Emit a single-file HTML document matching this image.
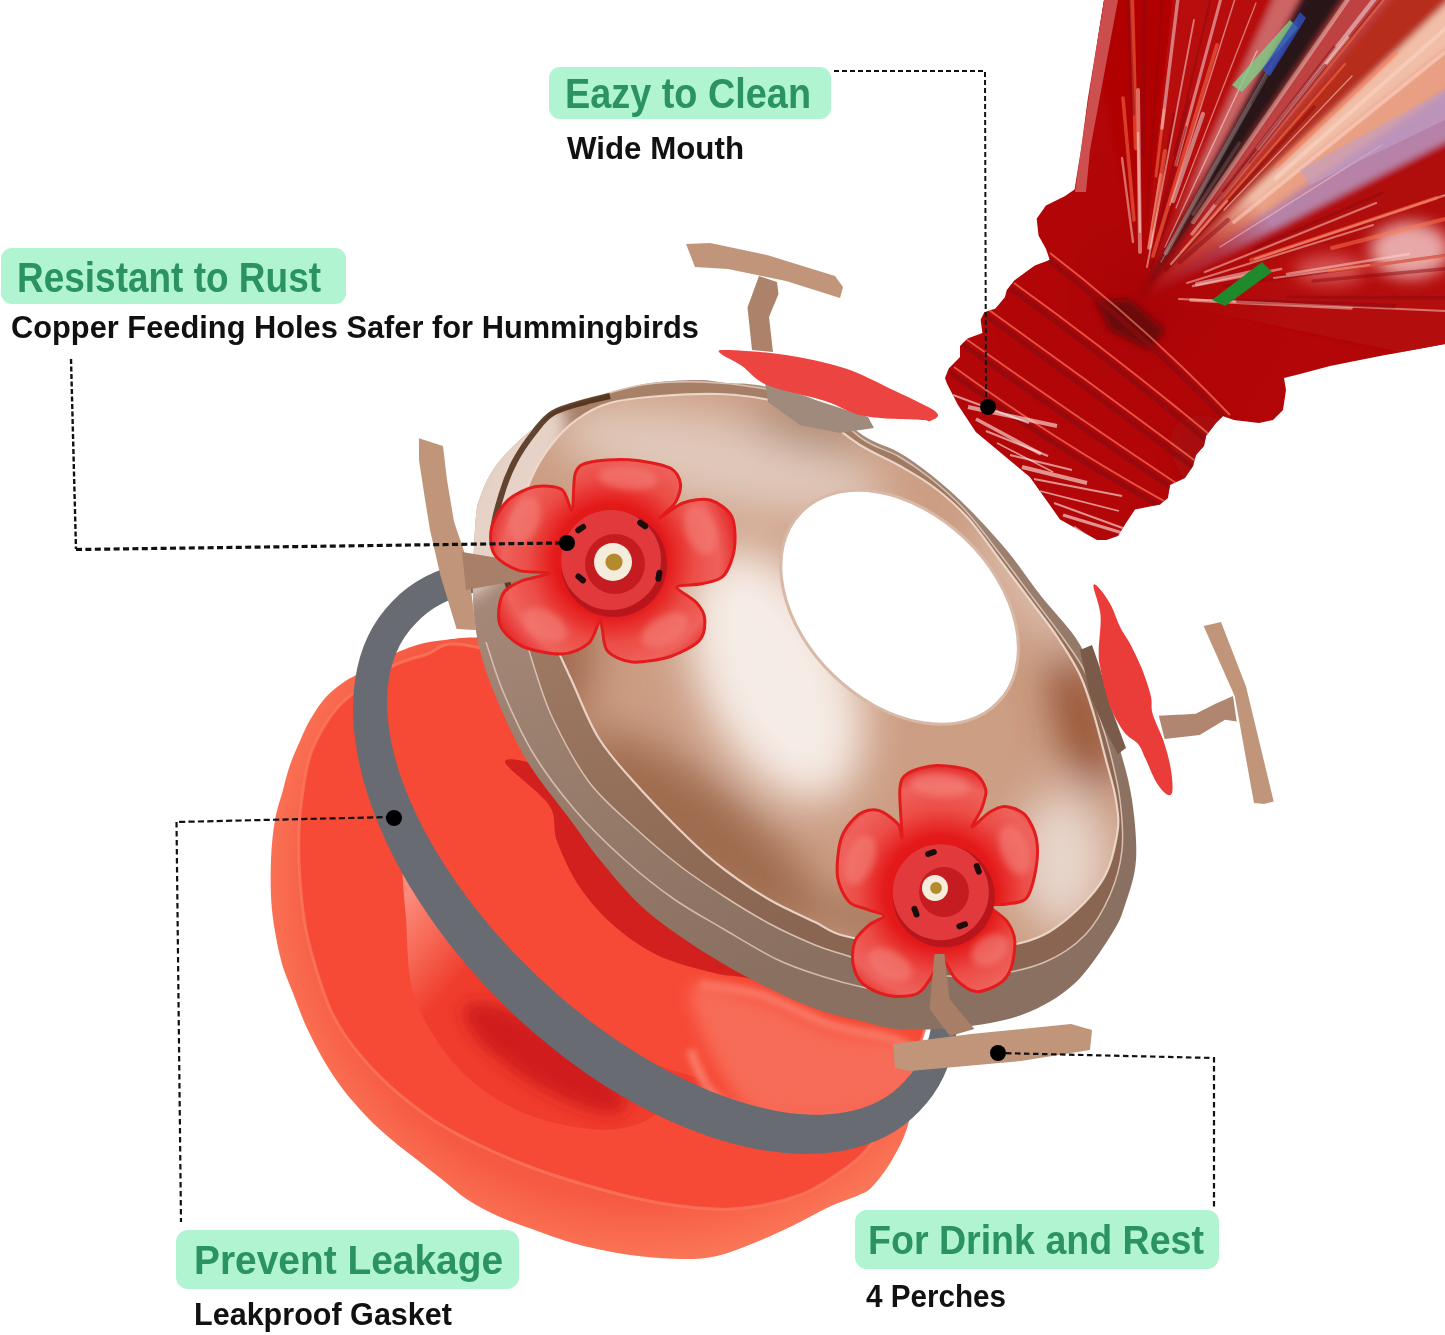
<!DOCTYPE html>
<html><head><meta charset="utf-8">
<style>
html,body{margin:0;padding:0;background:#fff;}
body{width:1445px;height:1335px;overflow:hidden;position:relative;}
svg{position:absolute;left:0;top:0;display:block;}
.h{font-family:"Liberation Sans",sans-serif;font-weight:bold;fill:#2b9262;}
.s{font-family:"Liberation Sans",sans-serif;font-weight:bold;fill:#111;}
</style></head><body>
<svg width="1445" height="1335" viewBox="0 0 1445 1335" xmlns="http://www.w3.org/2000/svg">
<defs>
<clipPath id="bottleClip"><path d="M1104 0 L1445 0 L1445 344 L1380 356 L1330 366 L1300 374 L1284 378 L1286 390 L1283 410 L1273 420 L1259 423 L1234 420 L1223 416 L1216 423 L1206 436 L1204 446 L1196 455 L1193 466 L1185 478 L1170 485 L1168 498 L1160 504.5 L1135 509.4 L1126 523 L1118 536 L1106.5 540 L1097 540 L1060 519.4 L1029.8 476.9 L975.8 432 L958 405 L946.9 383.5 L945 378 L948.7 368.5 L960 357 L960 346 L967.5 338.5 L982.4 333 L980.6 319.8 L984.3 312.3 L995.5 308.6 L1004.9 297.3 L1006.8 289.9 L1014.3 280.5 L1034.9 265.5 L1049.9 260 L1046 248.7 L1038.6 235.5 L1036.7 218.7 L1046 205.6 L1064.8 196.2 L1074.6 189.5 L1081.2 148.3 L1087.8 98.9 L1096 49.4Z"/></clipPath>
<clipPath id="domeClip"><path d="M642.7 384.3 C660.5 381.0 682.4 380.2 696.6 380.0 C710.8 379.8 717.4 382.1 728.0 383.0 C738.6 383.9 745.5 382.8 760.0 385.6 C774.5 388.4 797.7 391.6 815.0 400.0 C832.3 408.4 850.2 427.3 864.0 436.0 C877.8 444.7 887.0 445.7 898.0 452.0 C909.0 458.3 918.7 465.0 930.0 474.0 C941.3 483.0 953.1 493.2 966.0 506.0 C978.9 518.8 994.8 536.0 1007.3 551.0 C1019.8 566.0 1029.8 581.8 1041.0 596.0 C1052.2 610.2 1066.2 624.1 1074.7 636.4 C1083.2 648.7 1087.0 657.7 1092.0 670.0 C1097.0 682.3 1100.3 696.7 1105.0 710.0 C1109.7 723.3 1115.5 735.0 1120.0 750.0 C1124.5 765.0 1129.3 781.7 1132.0 800.0 C1134.7 818.3 1137.2 842.5 1136.0 860.0 C1134.8 877.5 1129.1 892.6 1125.0 905.0 C1120.9 917.4 1119.9 921.2 1111.4 934.4 C1102.9 947.6 1088.6 970.7 1074.0 984.0 C1059.4 997.3 1042.7 1006.8 1024.0 1014.0 C1005.3 1021.2 982.7 1024.5 962.0 1027.0 C941.3 1029.5 916.5 1030.1 900.0 1029.2 C883.5 1028.3 876.5 1024.9 862.7 1021.6 C848.9 1018.3 832.2 1014.7 817.0 1009.4 C801.8 1004.1 786.6 997.0 771.4 989.6 C756.2 982.2 740.9 974.2 725.7 965.3 C710.5 956.4 694.3 946.3 680.0 936.3 C665.7 926.2 653.3 917.7 640.0 905.0 C626.7 892.3 611.8 874.5 600.0 860.0 C588.2 845.5 581.2 834.5 569.0 818.0 C556.8 801.5 539.0 780.8 527.0 761.0 C515.0 741.2 504.8 717.9 497.0 699.4 C489.2 680.9 484.0 666.6 480.0 650.0 C476.0 633.4 473.8 621.4 473.0 600.0 C472.2 578.6 474.2 539.3 475.5 521.8 C476.8 504.3 477.9 503.8 481.0 494.8 C484.1 485.8 488.1 476.9 494.4 467.9 C500.7 458.9 509.3 449.6 518.7 441.0 C528.1 432.4 539.1 423.4 551.0 416.6 C562.9 409.8 574.7 405.4 590.0 400.0 C605.3 394.6 624.9 387.6 642.7 384.3Z"/></clipPath>
<clipPath id="surfClip"><path d="M609.5 403.0 C623.5 399.0 641.6 397.5 660.0 396.0 C678.4 394.5 701.7 393.3 720.0 394.0 C738.3 394.7 754.2 396.7 770.0 400.0 C785.8 403.3 800.0 406.5 815.0 414.0 C830.0 421.5 845.8 436.3 860.0 445.0 C874.2 453.7 887.5 458.8 900.0 466.0 C912.5 473.2 923.7 479.3 935.0 488.0 C946.3 496.7 957.2 506.0 968.0 518.0 C978.8 530.0 989.7 546.3 1000.0 560.0 C1010.3 573.7 1020.3 587.0 1030.0 600.0 C1039.7 613.0 1049.7 625.5 1058.0 638.0 C1066.3 650.5 1074.0 662.2 1080.0 675.0 C1086.0 687.8 1089.7 700.8 1094.0 715.0 C1098.3 729.2 1102.3 745.8 1106.0 760.0 C1109.7 774.2 1114.2 787.5 1116.0 800.0 C1117.8 812.5 1119.7 821.0 1117.0 835.0 C1114.3 849.0 1111.3 867.8 1100.0 884.0 C1088.7 900.2 1067.3 921.3 1049.0 932.0 C1030.7 942.7 1011.5 945.3 990.0 948.0 C968.5 950.7 944.2 950.0 920.0 948.0 C895.8 946.0 862.5 940.3 845.0 936.0 C827.5 931.7 827.5 928.0 815.0 922.0 C802.5 916.0 785.0 908.7 770.0 900.0 C755.0 891.3 738.7 880.3 725.0 870.0 C711.3 859.7 703.2 852.7 688.0 838.0 C672.8 823.3 649.0 798.8 634.0 782.0 C619.0 765.2 608.5 754.2 598.0 737.0 C587.5 719.8 579.3 696.8 571.0 679.0 C562.7 661.2 555.3 644.8 548.0 630.0 C540.7 615.2 532.8 602.9 527.0 590.0 C521.2 577.1 514.5 564.5 513.0 552.7 C511.5 541.0 514.9 532.0 518.0 519.5 C521.1 507.1 525.8 490.4 531.4 478.0 C537.0 465.6 543.9 454.5 551.4 444.8 C558.9 435.1 566.6 426.8 576.3 419.8 C586.0 412.8 595.5 407.0 609.5 403.0Z"/></clipPath>
<filter id="bl25" x="-50%" y="-50%" width="200%" height="200%"><feGaussianBlur stdDeviation="22"/></filter>
<filter id="bl8" x="-50%" y="-50%" width="200%" height="200%"><feGaussianBlur stdDeviation="8"/></filter>
<filter id="bl3" x="-50%" y="-50%" width="200%" height="200%"><feGaussianBlur stdDeviation="3"/></filter>
<linearGradient id="tubeG" gradientUnits="userSpaceOnUse" x1="405" y1="900" x2="475" y2="960">
<stop offset="0" stop-color="#fc8a7a"/><stop offset="0.5" stop-color="#f66654"/><stop offset="1" stop-color="#f03c2c"/>
</linearGradient>
<radialGradient id="bandG" gradientUnits="userSpaceOnUse" cx="640" cy="880" r="400">
<stop offset="0" stop-color="#f44a36"/><stop offset="0.8" stop-color="#f65a42"/><stop offset="1" stop-color="#fc7e5e"/>
</radialGradient>
<radialGradient id="focG"><stop offset="0" stop-color="#a80408" stop-opacity="1"/><stop offset="0.6" stop-color="#b00608" stop-opacity="0.6"/><stop offset="1" stop-color="#b00608" stop-opacity="0"/></radialGradient>
<linearGradient id="rimG1" gradientUnits="userSpaceOnUse" x1="540" y1="430" x2="760" y2="980">
<stop offset="0" stop-color="#b09080"/><stop offset="0.45" stop-color="#9c8070"/><stop offset="1" stop-color="#8a7060"/>
</linearGradient>
<linearGradient id="rimG2" gradientUnits="userSpaceOnUse" x1="540" y1="430" x2="740" y2="940">
<stop offset="0" stop-color="#a88068"/><stop offset="0.4" stop-color="#9c7862"/><stop offset="1" stop-color="#8a6652"/>
</linearGradient>
<radialGradient id="domeG" gradientUnits="userSpaceOnUse" cx="720" cy="640" r="420">
<stop offset="0" stop-color="#e2c5b4"/><stop offset="0.45" stop-color="#c49a80"/><stop offset="1" stop-color="#9a6f56"/>
</radialGradient>
<linearGradient id="bottleG" gradientUnits="userSpaceOnUse" x1="1000" y1="500" x2="1445" y2="0">
<stop offset="0" stop-color="#c01418"/><stop offset="0.6" stop-color="#cc1a18"/><stop offset="1" stop-color="#d8504a"/>
</linearGradient>
</defs>
<path d="M520.0 640.0 C482.2 626.2 486.0 637.5 473.5 637.5 C461.0 637.5 454.4 638.8 445.0 640.0 C435.6 641.2 427.0 642.0 417.0 645.0 C407.0 648.0 394.8 653.2 385.0 658.0 C375.2 662.8 364.8 670.0 358.0 674.0 C351.2 678.0 349.3 678.2 344.0 682.0 C338.7 685.8 331.7 690.7 326.0 697.0 C320.3 703.3 314.3 712.7 310.0 720.0 C305.7 727.3 303.3 733.5 300.0 741.0 C296.7 748.5 292.8 756.8 290.0 765.0 C287.2 773.2 285.5 780.8 283.0 790.0 C280.5 799.2 277.0 808.3 275.0 820.0 C273.0 831.7 271.5 845.0 271.0 860.0 C270.5 875.0 270.3 893.3 272.0 910.0 C273.7 926.7 277.5 946.2 281.0 960.0 C284.5 973.8 288.8 982.0 293.0 993.0 C297.2 1004.0 301.0 1015.0 306.0 1026.0 C311.0 1037.0 317.0 1048.7 323.0 1059.0 C329.0 1069.3 334.7 1078.3 342.0 1088.0 C349.3 1097.7 358.7 1108.3 367.0 1117.0 C375.3 1125.7 383.2 1132.5 392.0 1140.0 C400.8 1147.5 411.3 1155.2 420.0 1162.0 C428.7 1168.8 436.0 1174.7 444.0 1181.0 C452.0 1187.3 458.7 1194.0 468.0 1200.0 C477.3 1206.0 488.0 1211.7 500.0 1217.0 C512.0 1222.3 526.7 1227.3 540.0 1232.0 C553.3 1236.7 565.0 1241.2 580.0 1245.0 C595.0 1248.8 613.3 1252.7 630.0 1255.0 C646.7 1257.3 665.5 1258.8 680.0 1259.0 C694.5 1259.2 704.7 1258.7 717.0 1256.0 C729.3 1253.3 741.5 1248.0 754.0 1243.0 C766.5 1238.0 779.5 1232.0 792.0 1226.0 C804.5 1220.0 817.8 1212.2 829.0 1207.0 C840.2 1201.8 852.2 1198.0 859.0 1195.0 C865.8 1192.0 866.2 1192.3 870.0 1189.0 C873.8 1185.7 878.3 1179.8 882.0 1175.0 C885.7 1170.2 888.5 1166.0 892.0 1160.0 C895.5 1154.0 900.2 1145.5 903.0 1139.0 C905.8 1132.5 906.8 1129.2 909.0 1121.0 C911.2 1112.8 914.2 1101.8 916.0 1090.0 C917.8 1078.2 918.5 1065.0 920.0 1050.0 C921.5 1035.0 931.7 1025.0 925.0 1000.0 C918.3 975.0 917.5 946.7 880.0 900.0 C842.5 853.3 760.0 763.3 700.0 720.0 C640.0 676.7 557.8 653.8 520.0 640.0Z" fill="url(#bandG)"/>
<path d="M480.0 648.0 C434.2 637.2 441.7 651.0 425.0 655.0 C408.3 659.0 391.7 665.8 380.0 672.0 C368.3 678.2 362.0 686.2 355.0 692.0 C348.0 697.8 343.5 700.7 338.0 707.0 C332.5 713.3 326.7 721.8 322.0 730.0 C317.3 738.2 313.2 746.0 310.0 756.0 C306.8 766.0 304.8 777.7 303.0 790.0 C301.2 802.3 299.5 815.0 299.0 830.0 C298.5 845.0 298.8 863.3 300.0 880.0 C301.2 896.7 303.0 914.2 306.0 930.0 C309.0 945.8 313.5 960.8 318.0 975.0 C322.5 989.2 326.0 1001.7 333.0 1015.0 C340.0 1028.3 348.8 1041.7 360.0 1055.0 C371.2 1068.3 385.3 1082.7 400.0 1095.0 C414.7 1107.3 428.0 1117.7 448.0 1129.0 C468.0 1140.3 496.5 1153.5 520.0 1163.0 C543.5 1172.5 565.7 1179.3 589.0 1186.0 C612.3 1192.7 636.3 1199.2 660.0 1203.0 C683.7 1206.8 707.7 1210.3 731.0 1209.0 C754.3 1207.7 780.2 1202.3 800.0 1195.0 C819.8 1187.7 838.0 1173.7 850.0 1165.0 C862.0 1156.3 864.5 1152.2 872.0 1143.0 C879.5 1133.8 889.5 1118.5 895.0 1110.0 C900.5 1101.5 901.2 1102.0 905.0 1092.0 C908.8 1082.0 914.7 1065.3 918.0 1050.0 C921.3 1034.7 931.3 1025.0 925.0 1000.0 C918.7 975.0 917.5 946.7 880.0 900.0 C842.5 853.3 766.7 762.0 700.0 720.0 C633.3 678.0 525.8 658.8 480.0 648.0Z" fill="#f64a36"/>
<path d="M480.0 648.0 C434.2 637.2 441.7 651.0 425.0 655.0 C408.3 659.0 391.7 665.8 380.0 672.0 C368.3 678.2 362.0 686.2 355.0 692.0 C348.0 697.8 343.5 700.7 338.0 707.0 C332.5 713.3 326.7 721.8 322.0 730.0 C317.3 738.2 313.2 746.0 310.0 756.0 C306.8 766.0 304.8 777.7 303.0 790.0 C301.2 802.3 299.5 815.0 299.0 830.0 C298.5 845.0 298.8 863.3 300.0 880.0 C301.2 896.7 303.0 914.2 306.0 930.0 C309.0 945.8 313.5 960.8 318.0 975.0 C322.5 989.2 326.0 1001.7 333.0 1015.0 C340.0 1028.3 348.8 1041.7 360.0 1055.0 C371.2 1068.3 385.3 1082.7 400.0 1095.0 C414.7 1107.3 428.0 1117.7 448.0 1129.0 C468.0 1140.3 496.5 1153.5 520.0 1163.0 C543.5 1172.5 565.7 1179.3 589.0 1186.0 C612.3 1192.7 636.3 1199.2 660.0 1203.0 C683.7 1206.8 707.7 1210.3 731.0 1209.0 C754.3 1207.7 780.2 1202.3 800.0 1195.0 C819.8 1187.7 838.0 1173.7 850.0 1165.0 C862.0 1156.3 864.5 1152.2 872.0 1143.0 C879.5 1133.8 889.5 1118.5 895.0 1110.0 C900.5 1101.5 901.2 1102.0 905.0 1092.0 C908.8 1082.0 914.7 1065.3 918.0 1050.0 C921.3 1034.7 931.3 1025.0 925.0 1000.0 C918.7 975.0 917.5 946.7 880.0 900.0 C842.5 853.3 766.7 762.0 700.0 720.0 C633.3 678.0 525.8 658.8 480.0 648.0Z" fill="none" stroke="#fb7a64" stroke-width="3" opacity="0.7"/>
<path d="M404.0 860.0 C407.2 849.5 417.3 850.0 425.0 855.0 C432.7 860.0 440.0 876.7 450.0 890.0 C460.0 903.3 471.7 919.2 485.0 935.0 C498.3 950.8 512.5 969.2 530.0 985.0 C547.5 1000.8 570.0 1017.2 590.0 1030.0 C610.0 1042.8 630.0 1052.8 650.0 1062.0 C670.0 1071.2 706.8 1077.7 710.0 1085.0 C713.2 1092.3 681.3 1099.3 669.0 1106.0 C656.7 1112.7 649.3 1121.2 636.0 1125.0 C622.7 1128.8 608.5 1131.3 589.0 1129.0 C569.5 1126.7 540.8 1121.2 519.0 1111.0 C497.2 1100.8 475.3 1086.8 458.0 1068.0 C440.7 1049.2 423.7 1023.0 415.0 998.0 C406.3 973.0 407.8 941.0 406.0 918.0 C404.2 895.0 400.8 870.5 404.0 860.0Z" fill="url(#tubeG)"/>
<ellipse cx="545" cy="1058" rx="95" ry="28" transform="rotate(32 545 1058)" fill="#d01a1c" filter="url(#bl8)"/>
<path d="M700.0 985.0 C710.0 986.7 738.3 988.3 760.0 995.0 C781.7 1001.7 805.8 1016.7 830.0 1025.0 C854.2 1033.3 890.3 1035.0 905.0 1045.0 C919.7 1055.0 922.2 1074.2 918.0 1085.0 C913.8 1095.8 899.7 1104.5 880.0 1110.0 C860.3 1115.5 826.7 1119.7 800.0 1118.0 C773.3 1116.3 738.3 1111.3 720.0 1100.0 C701.7 1088.7 695.0 1058.3 690.0 1050.0" fill="none" stroke="#fa8472" stroke-width="9" opacity="0.85" filter="url(#bl3)"/>
<path d="M505.0 762.0 C504.3 755.8 529.2 761.7 545.0 768.0 C560.8 774.3 574.2 781.3 600.0 800.0 C625.8 818.7 666.7 853.3 700.0 880.0 C733.3 906.7 765.8 937.0 800.0 960.0 C834.2 983.0 905.0 1012.7 905.0 1018.0 C905.0 1023.3 826.3 998.7 800.0 992.0 C773.7 985.3 761.3 981.2 747.0 978.0 C732.7 974.8 729.0 976.8 714.0 973.0 C699.0 969.2 674.0 963.2 657.0 955.0 C640.0 946.8 625.0 935.5 612.0 924.0 C599.0 912.5 588.2 899.8 579.0 886.0 C569.8 872.2 562.0 854.5 557.0 841.0 C552.0 827.5 557.7 818.2 549.0 805.0 C540.3 791.8 505.7 768.2 505.0 762.0Z" fill="#d2201e"/>
<path d="M690.0 990.0 C693.3 973.3 736.7 993.3 760.0 1000.0 C783.3 1006.7 805.8 1022.5 830.0 1030.0 C854.2 1037.5 890.3 1035.8 905.0 1045.0 C919.7 1054.2 922.2 1074.2 918.0 1085.0 C913.8 1095.8 899.7 1104.5 880.0 1110.0 C860.3 1115.5 823.3 1119.7 800.0 1118.0 C776.7 1116.3 758.3 1121.3 740.0 1100.0 C721.7 1078.7 686.7 1006.7 690.0 990.0Z" fill="#f7705c" opacity="0.9" filter="url(#bl8)"/>
<path d="M919.6 1111.1 A366.7 211 44 1 1 392.0 601.7 A366.7 211 44 1 1 919.6 1111.1Z M905.0 1080.8 A334.9 172.2 43 1 1 415.2 624.0 A334.9 172.2 43 1 1 905.0 1080.8Z" fill="#686c72" fill-rule="evenodd"/>
<path d="M642.7 384.3 C660.5 381.0 682.4 380.2 696.6 380.0 C710.8 379.8 717.4 382.1 728.0 383.0 C738.6 383.9 745.5 382.8 760.0 385.6 C774.5 388.4 797.7 391.6 815.0 400.0 C832.3 408.4 850.2 427.3 864.0 436.0 C877.8 444.7 887.0 445.7 898.0 452.0 C909.0 458.3 918.7 465.0 930.0 474.0 C941.3 483.0 953.1 493.2 966.0 506.0 C978.9 518.8 994.8 536.0 1007.3 551.0 C1019.8 566.0 1029.8 581.8 1041.0 596.0 C1052.2 610.2 1066.2 624.1 1074.7 636.4 C1083.2 648.7 1087.0 657.7 1092.0 670.0 C1097.0 682.3 1100.3 696.7 1105.0 710.0 C1109.7 723.3 1115.5 735.0 1120.0 750.0 C1124.5 765.0 1129.3 781.7 1132.0 800.0 C1134.7 818.3 1137.2 842.5 1136.0 860.0 C1134.8 877.5 1129.1 892.6 1125.0 905.0 C1120.9 917.4 1119.9 921.2 1111.4 934.4 C1102.9 947.6 1088.6 970.7 1074.0 984.0 C1059.4 997.3 1042.7 1006.8 1024.0 1014.0 C1005.3 1021.2 982.7 1024.5 962.0 1027.0 C941.3 1029.5 916.5 1030.1 900.0 1029.2 C883.5 1028.3 876.5 1024.9 862.7 1021.6 C848.9 1018.3 832.2 1014.7 817.0 1009.4 C801.8 1004.1 786.6 997.0 771.4 989.6 C756.2 982.2 740.9 974.2 725.7 965.3 C710.5 956.4 694.3 946.3 680.0 936.3 C665.7 926.2 653.3 917.7 640.0 905.0 C626.7 892.3 611.8 874.5 600.0 860.0 C588.2 845.5 581.2 834.5 569.0 818.0 C556.8 801.5 539.0 780.8 527.0 761.0 C515.0 741.2 504.8 717.9 497.0 699.4 C489.2 680.9 484.0 666.6 480.0 650.0 C476.0 633.4 473.8 621.4 473.0 600.0 C472.2 578.6 474.2 539.3 475.5 521.8 C476.8 504.3 477.9 503.8 481.0 494.8 C484.1 485.8 488.1 476.9 494.4 467.9 C500.7 458.9 509.3 449.6 518.7 441.0 C528.1 432.4 539.1 423.4 551.0 416.6 C562.9 409.8 574.7 405.4 590.0 400.0 C605.3 394.6 624.9 387.6 642.7 384.3Z" fill="url(#rimG1)"/>
<path d="M642.0 385.0 C659.8 382.3 680.3 381.5 700.0 382.0 C719.7 382.5 740.8 384.7 760.0 388.0 C779.2 391.3 797.7 393.3 815.0 402.0 C832.3 410.7 850.2 431.0 864.0 440.0 C877.8 449.0 887.0 449.7 898.0 456.0 C909.0 462.3 918.8 469.0 930.0 478.0 C941.2 487.0 953.3 497.3 965.0 510.0 C976.7 522.7 988.7 539.3 1000.0 554.0 C1011.3 568.7 1022.5 584.0 1033.0 598.0 C1043.5 612.0 1054.3 625.7 1063.0 638.0 C1071.7 650.3 1079.2 659.7 1085.0 672.0 C1090.8 684.3 1093.8 698.7 1098.0 712.0 C1102.2 725.3 1106.3 737.3 1110.0 752.0 C1113.7 766.7 1118.0 783.7 1120.0 800.0 C1122.0 816.3 1123.7 834.2 1122.0 850.0 C1120.3 865.8 1116.2 880.8 1110.0 895.0 C1103.8 909.2 1095.8 923.8 1085.0 935.0 C1074.2 946.2 1060.8 955.3 1045.0 962.0 C1029.2 968.7 1009.2 972.8 990.0 975.0 C970.8 977.2 948.3 976.5 930.0 975.0 C911.7 973.5 894.2 969.3 880.0 966.0 C865.8 962.7 855.8 958.5 845.0 955.0 C834.2 951.5 827.5 950.2 815.0 945.0 C802.5 939.8 785.0 932.0 770.0 924.0 C755.0 916.0 740.0 906.7 725.0 897.0 C710.0 887.3 695.2 877.7 680.0 866.0 C664.8 854.3 649.2 841.0 634.0 827.0 C618.8 813.0 602.5 800.0 589.0 782.0 C575.5 764.0 562.0 737.7 553.0 719.0 C544.0 700.3 540.5 686.5 535.0 670.0 C529.5 653.5 525.0 635.8 520.0 620.0 C515.0 604.2 509.5 589.0 505.0 575.0 C500.5 561.0 493.6 549.4 493.0 536.0 C492.4 522.6 497.9 507.0 501.5 494.6 C505.1 482.2 509.2 471.9 514.8 461.4 C520.3 450.9 528.4 439.8 534.8 431.5 C541.2 423.2 543.3 417.1 553.0 411.5 C562.7 405.9 578.2 402.4 593.0 398.0 C607.8 393.6 624.2 387.7 642.0 385.0Z" fill="url(#rimG2)" stroke="#d8c0b0" stroke-width="1.5"/>
<g clip-path="url(#domeClip)"><ellipse cx="505" cy="500" rx="38" ry="110" transform="rotate(28 505 500)" fill="#e6d2c6" filter="url(#bl8)"/></g>
<path d="M610.0 396.0 C605.8 397.0 594.5 399.2 585.0 402.0 C575.5 404.8 561.4 408.1 553.0 413.0 C544.6 417.9 541.2 423.4 534.8 431.5 C528.4 439.6 520.3 450.9 514.8 461.4 C509.2 471.9 505.1 482.2 501.5 494.6 C497.9 507.0 492.4 522.6 493.0 536.0 C493.6 549.4 500.5 561.0 505.0 575.0 C509.5 589.0 517.5 612.5 520.0 620.0" fill="none" stroke="#4a2a14" stroke-width="6" opacity="0.85"/>
<path d="M609.5 403.0 C623.5 399.0 641.6 397.5 660.0 396.0 C678.4 394.5 701.7 393.3 720.0 394.0 C738.3 394.7 754.2 396.7 770.0 400.0 C785.8 403.3 800.0 406.5 815.0 414.0 C830.0 421.5 845.8 436.3 860.0 445.0 C874.2 453.7 887.5 458.8 900.0 466.0 C912.5 473.2 923.7 479.3 935.0 488.0 C946.3 496.7 957.2 506.0 968.0 518.0 C978.8 530.0 989.7 546.3 1000.0 560.0 C1010.3 573.7 1020.3 587.0 1030.0 600.0 C1039.7 613.0 1049.7 625.5 1058.0 638.0 C1066.3 650.5 1074.0 662.2 1080.0 675.0 C1086.0 687.8 1089.7 700.8 1094.0 715.0 C1098.3 729.2 1102.3 745.8 1106.0 760.0 C1109.7 774.2 1114.2 787.5 1116.0 800.0 C1117.8 812.5 1119.7 821.0 1117.0 835.0 C1114.3 849.0 1111.3 867.8 1100.0 884.0 C1088.7 900.2 1067.3 921.3 1049.0 932.0 C1030.7 942.7 1011.5 945.3 990.0 948.0 C968.5 950.7 944.2 950.0 920.0 948.0 C895.8 946.0 862.5 940.3 845.0 936.0 C827.5 931.7 827.5 928.0 815.0 922.0 C802.5 916.0 785.0 908.7 770.0 900.0 C755.0 891.3 738.7 880.3 725.0 870.0 C711.3 859.7 703.2 852.7 688.0 838.0 C672.8 823.3 649.0 798.8 634.0 782.0 C619.0 765.2 608.5 754.2 598.0 737.0 C587.5 719.8 579.3 696.8 571.0 679.0 C562.7 661.2 555.3 644.8 548.0 630.0 C540.7 615.2 532.8 602.9 527.0 590.0 C521.2 577.1 514.5 564.5 513.0 552.7 C511.5 541.0 514.9 532.0 518.0 519.5 C521.1 507.1 525.8 490.4 531.4 478.0 C537.0 465.6 543.9 454.5 551.4 444.8 C558.9 435.1 566.6 426.8 576.3 419.8 C586.0 412.8 595.5 407.0 609.5 403.0Z" fill="#cc9e84"/>
<g clip-path="url(#surfClip)" filter="url(#bl25)"><ellipse cx="720" cy="460" rx="170" ry="45" transform="rotate(12 720 460)" fill="#e0c8ba"/><ellipse cx="1030" cy="580" rx="30" ry="80" transform="rotate(-35 1030 580)" fill="#dcbcaa"/><ellipse cx="555" cy="650" rx="40" ry="80" fill="#a06a50"/><ellipse cx="700" cy="830" rx="150" ry="45" transform="rotate(38 700 830)" fill="#9e6a4e"/><ellipse cx="775" cy="675" rx="75" ry="135" transform="rotate(-25 775 675)" fill="#f6ece6"/><ellipse cx="1062" cy="860" rx="45" ry="70" fill="#e8d6cc"/><ellipse cx="1082" cy="720" rx="22" ry="75" transform="rotate(-15 1082 720)" fill="#8a4426"/><ellipse cx="805" cy="428" rx="60" ry="16" transform="rotate(15 805 428)" fill="#a07a64"/><ellipse cx="870" cy="920" rx="60" ry="18" transform="rotate(10 870 920)" fill="#9a6a50"/></g>
<path d="M609.5 403.0 C623.5 399.0 641.6 397.5 660.0 396.0 C678.4 394.5 701.7 393.3 720.0 394.0 C738.3 394.7 754.2 396.7 770.0 400.0 C785.8 403.3 800.0 406.5 815.0 414.0 C830.0 421.5 845.8 436.3 860.0 445.0 C874.2 453.7 887.5 458.8 900.0 466.0 C912.5 473.2 923.7 479.3 935.0 488.0 C946.3 496.7 957.2 506.0 968.0 518.0 C978.8 530.0 989.7 546.3 1000.0 560.0 C1010.3 573.7 1020.3 587.0 1030.0 600.0 C1039.7 613.0 1049.7 625.5 1058.0 638.0 C1066.3 650.5 1074.0 662.2 1080.0 675.0 C1086.0 687.8 1089.7 700.8 1094.0 715.0 C1098.3 729.2 1102.3 745.8 1106.0 760.0 C1109.7 774.2 1114.2 787.5 1116.0 800.0 C1117.8 812.5 1119.7 821.0 1117.0 835.0 C1114.3 849.0 1111.3 867.8 1100.0 884.0 C1088.7 900.2 1067.3 921.3 1049.0 932.0 C1030.7 942.7 1011.5 945.3 990.0 948.0 C968.5 950.7 944.2 950.0 920.0 948.0 C895.8 946.0 862.5 940.3 845.0 936.0 C827.5 931.7 827.5 928.0 815.0 922.0 C802.5 916.0 785.0 908.7 770.0 900.0 C755.0 891.3 738.7 880.3 725.0 870.0 C711.3 859.7 703.2 852.7 688.0 838.0 C672.8 823.3 649.0 798.8 634.0 782.0 C619.0 765.2 608.5 754.2 598.0 737.0 C587.5 719.8 579.3 696.8 571.0 679.0 C562.7 661.2 555.3 644.8 548.0 630.0 C540.7 615.2 532.8 602.9 527.0 590.0 C521.2 577.1 514.5 564.5 513.0 552.7 C511.5 541.0 514.9 532.0 518.0 519.5 C521.1 507.1 525.8 490.4 531.4 478.0 C537.0 465.6 543.9 454.5 551.4 444.8 C558.9 435.1 566.6 426.8 576.3 419.8 C586.0 412.8 595.5 407.0 609.5 403.0Z" fill="none" stroke="#f0dccf" stroke-width="2.2" opacity="0.9"/>
<path d="M486.0 642.0 C488.8 650.2 495.2 672.9 503.0 691.4 C510.8 709.9 521.0 733.2 533.0 753.0 C545.0 772.8 559.8 792.2 575.0 810.0 C590.2 827.8 607.8 844.7 624.3 859.5 C640.8 874.3 657.3 887.5 673.8 899.0 C690.3 910.5 706.2 918.8 723.2 928.8 C740.2 938.8 759.7 951.1 776.0 959.0 C792.3 966.9 806.0 971.2 821.0 976.0 C836.0 980.8 851.8 985.0 866.0 988.0 C880.2 991.0 899.3 993.0 906.0 994.0" fill="none" stroke="#d8c2b4" stroke-width="1.6" opacity="0.9"/>
<path d="M997.5 700.8 A135.4 93.2 43.7 1 1 801.7 513.8 A135.4 93.2 43.7 1 1 997.5 700.8Z" fill="#fff"/>
<path d="M998.6 702.0 A137 95 43.7 1 1 800.6 512.6 A137 95 43.7 1 1 998.6 702.0Z" fill="none" stroke="#d8b8a6" stroke-width="3"/>
<path d="M1104.0 0.0 L1445.0 0.0 L1445.0 344.0 L1380.0 356.0 L1330.0 366.0 L1300.0 374.0 L1284.0 378.0 L1286.0 390.0 L1283.0 410.0 L1273.0 420.0 L1259.0 423.0 L1234.0 420.0 L1223.0 416.0 L1216.0 423.0 L1206.0 436.0 L1204.0 446.0 L1196.0 455.0 L1193.0 466.0 L1185.0 478.0 L1170.0 485.0 L1168.0 498.0 L1160.0 504.5 L1135.0 509.4 L1126.0 523.0 L1118.0 536.0 L1106.5 540.0 L1097.0 540.0 L1060.0 519.4 L1029.8 476.9 L975.8 432.0 L958.0 405.0 L946.9 383.5 L945.0 378.0 L948.7 368.5 L960.0 357.0 L960.0 346.0 L967.5 338.5 L982.4 333.0 L980.6 319.8 L984.3 312.3 L995.5 308.6 L1004.9 297.3 L1006.8 289.9 L1014.3 280.5 L1034.9 265.5 L1049.9 260.0 L1046.0 248.7 L1038.6 235.5 L1036.7 218.7 L1046.0 205.6 L1064.8 196.2 L1074.6 189.5 L1081.2 148.3 L1087.8 98.9 L1096.0 49.4Z" fill="#b20608" />
<g clip-path="url(#bottleClip)">
<g filter="url(#bl3)">
<path d="M1141 297 L1019 -392 L1214 -399Z" fill="#b00606" opacity="1"/>
<path d="M1141 297 L1214 -399 L1426 -342Z" fill="#b80a0a" opacity="1"/>
<path d="M1141 297 L1426 -342 L1470 -321Z" fill="#d07070" opacity="0.9"/>
<path d="M1141 297 L1470 -321 L1532 -283Z" fill="#2a1a24" opacity="0.85"/>
<path d="M1141 297 L1532 -283 L1591 -239Z" fill="#c04848" opacity="0.9"/>
<path d="M1141 297 L1591 -239 L1645 -189Z" fill="#b83020" opacity="0.9"/>
<path d="M1141 297 L1645 -189 L1685 -144Z" fill="#f4c8b0" opacity="0.95"/>
<path d="M1141 297 L1685 -144 L1721 -94Z" fill="#f0b090" opacity="0.9"/>
<path d="M1141 297 L1721 -94 L1765 -21Z" fill="#b890b8" opacity="0.9"/>
<path d="M1141 297 L1765 -21 L1820 128Z" fill="#b00808" opacity="1"/>
<path d="M1141 297 L1820 128 L1839 248Z" fill="#b80c0c" opacity="1"/>
<path d="M1141 297 L1839 248 L1826 443Z" fill="#b40808" opacity="1"/>
</g>
<g filter="url(#bl8)">
<ellipse cx="1410" cy="250" rx="40" ry="28" fill="#e8a8a8"/>
<ellipse cx="1330" cy="270" rx="35" ry="15" fill="#e07070" opacity="0.7"/>
<ellipse cx="1230" cy="470" rx="70" ry="40" transform="rotate(40 1230 470)" fill="#a01012" opacity="0.6"/>
</g>
<circle cx="1141" cy="297" r="150" fill="url(#focG)"/>
<line x1="1165" y1="247" x2="1257" y2="51" stroke="#ffffff" stroke-width="1.4" opacity="0.45" stroke-linecap="round"/>
<line x1="1161" y1="262" x2="1251" y2="104" stroke="#ffffff" stroke-width="1.3" opacity="0.45" stroke-linecap="round"/>
<line x1="1140" y1="252" x2="1138" y2="90" stroke="#ffd8cc" stroke-width="3.9" opacity="0.5" stroke-linecap="round"/>
<line x1="1176" y1="165" x2="1251" y2="-113" stroke="#ffffff" stroke-width="3.1" opacity="0.45" stroke-linecap="round"/>
<line x1="1179" y1="299" x2="1445" y2="311" stroke="#ffd8cc" stroke-width="2.2" opacity="0.5" stroke-linecap="round"/>
<line x1="1147" y1="215" x2="1165" y2="-40" stroke="#8a0a10" stroke-width="1.8" opacity="0.5" stroke-linecap="round"/>
<line x1="1220" y1="247" x2="1382" y2="145" stroke="#ffd8cc" stroke-width="1.4" opacity="0.5" stroke-linecap="round"/>
<line x1="1174" y1="155" x2="1211" y2="-3" stroke="#8a0a10" stroke-width="2.2" opacity="0.5" stroke-linecap="round"/>
<line x1="1192" y1="234" x2="1348" y2="38" stroke="#ffd8cc" stroke-width="3.5" opacity="0.5" stroke-linecap="round"/>
<line x1="1234" y1="222" x2="1444" y2="53" stroke="#ffd8cc" stroke-width="3.6" opacity="0.5" stroke-linecap="round"/>
<line x1="1191" y1="300" x2="1351" y2="308" stroke="#ffd8cc" stroke-width="3.7" opacity="0.5" stroke-linecap="round"/>
<line x1="1166" y1="270" x2="1314" y2="107" stroke="#8a0a10" stroke-width="3.7" opacity="0.5" stroke-linecap="round"/>
<line x1="1224" y1="286" x2="1448" y2="255" stroke="#8a0a10" stroke-width="3.2" opacity="0.5" stroke-linecap="round"/>
<line x1="1250" y1="163" x2="1430" y2="-60" stroke="#8a0a10" stroke-width="2.8" opacity="0.5" stroke-linecap="round"/>
<line x1="1136" y1="148" x2="1130" y2="-67" stroke="#ff7a50" stroke-width="4.5" opacity="0.5" stroke-linecap="round"/>
<line x1="1176" y1="208" x2="1256" y2="3" stroke="#ffffff" stroke-width="1.3" opacity="0.45" stroke-linecap="round"/>
<line x1="1149" y1="248" x2="1161" y2="175" stroke="#ffd8cc" stroke-width="3.7" opacity="0.5" stroke-linecap="round"/>
<line x1="1170" y1="205" x2="1251" y2="-52" stroke="#ffffff" stroke-width="1.5" opacity="0.45" stroke-linecap="round"/>
<line x1="1276" y1="178" x2="1469" y2="8" stroke="#ffd8cc" stroke-width="4.1" opacity="0.5" stroke-linecap="round"/>
<line x1="1193" y1="222" x2="1348" y2="-1" stroke="#ffd8cc" stroke-width="4.4" opacity="0.5" stroke-linecap="round"/>
<line x1="1153" y1="229" x2="1174" y2="114" stroke="#8a0a10" stroke-width="2.8" opacity="0.5" stroke-linecap="round"/>
<line x1="1151" y1="268" x2="1203" y2="116" stroke="#8a0a10" stroke-width="2.4" opacity="0.5" stroke-linecap="round"/>
<line x1="1288" y1="297" x2="1472" y2="298" stroke="#8a0a10" stroke-width="3.2" opacity="0.5" stroke-linecap="round"/>
<line x1="1133" y1="114" x2="1123" y2="-133" stroke="#8a0a10" stroke-width="4.1" opacity="0.5" stroke-linecap="round"/>
<line x1="1193" y1="214" x2="1239" y2="143" stroke="#ffd8cc" stroke-width="3.3" opacity="0.5" stroke-linecap="round"/>
<line x1="1140" y1="232" x2="1138" y2="133" stroke="#ffd8cc" stroke-width="2.3" opacity="0.5" stroke-linecap="round"/>
<line x1="1133" y1="242" x2="1122" y2="158" stroke="#ffd8cc" stroke-width="2.4" opacity="0.5" stroke-linecap="round"/>
<line x1="1274" y1="278" x2="1369" y2="265" stroke="#ffd8cc" stroke-width="2.0" opacity="0.5" stroke-linecap="round"/>
<line x1="1166" y1="253" x2="1296" y2="23" stroke="#ffffff" stroke-width="4.5" opacity="0.45" stroke-linecap="round"/>
<line x1="1171" y1="264" x2="1227" y2="201" stroke="#ffd8cc" stroke-width="2.3" opacity="0.5" stroke-linecap="round"/>
<line x1="1197" y1="284" x2="1261" y2="270" stroke="#ffffff" stroke-width="4.3" opacity="0.45" stroke-linecap="round"/>
<line x1="1156" y1="176" x2="1164" y2="110" stroke="#ff7a50" stroke-width="2.9" opacity="0.5" stroke-linecap="round"/>
<line x1="1287" y1="274" x2="1409" y2="254" stroke="#ffd8cc" stroke-width="2.4" opacity="0.5" stroke-linecap="round"/>
<line x1="1255" y1="259" x2="1490" y2="180" stroke="#ffd8cc" stroke-width="2.3" opacity="0.5" stroke-linecap="round"/>
<line x1="1332" y1="248" x2="1589" y2="182" stroke="#ff7a50" stroke-width="3.9" opacity="0.5" stroke-linecap="round"/>
<line x1="1205" y1="272" x2="1376" y2="203" stroke="#ffd8cc" stroke-width="2.4" opacity="0.5" stroke-linecap="round"/>
<line x1="1134" y1="220" x2="1123" y2="98" stroke="#ff7a50" stroke-width="3.5" opacity="0.5" stroke-linecap="round"/>
<line x1="1258" y1="148" x2="1441" y2="-86" stroke="#ffffff" stroke-width="4.4" opacity="0.45" stroke-linecap="round"/>
<line x1="1158" y1="231" x2="1186" y2="127" stroke="#8a0a10" stroke-width="1.9" opacity="0.5" stroke-linecap="round"/>
<line x1="1313" y1="281" x2="1487" y2="265" stroke="#8a0a10" stroke-width="3.4" opacity="0.5" stroke-linecap="round"/>
<line x1="1143" y1="155" x2="1146" y2="-124" stroke="#8a0a10" stroke-width="3.8" opacity="0.5" stroke-linecap="round"/>
<line x1="1181" y1="252" x2="1345" y2="64" stroke="#ff7a50" stroke-width="2.3" opacity="0.5" stroke-linecap="round"/>
<line x1="1238" y1="301" x2="1394" y2="306" stroke="#8a0a10" stroke-width="4.3" opacity="0.5" stroke-linecap="round"/>
<line x1="1150" y1="246" x2="1165" y2="151" stroke="#ff7a50" stroke-width="4.2" opacity="0.5" stroke-linecap="round"/>
<line x1="1162" y1="128" x2="1198" y2="-165" stroke="#ffffff" stroke-width="3.4" opacity="0.45" stroke-linecap="round"/>
<line x1="1180" y1="262" x2="1228" y2="220" stroke="#8a0a10" stroke-width="4.4" opacity="0.5" stroke-linecap="round"/>
<line x1="1277" y1="166" x2="1396" y2="53" stroke="#ff7a50" stroke-width="4.1" opacity="0.5" stroke-linecap="round"/>
<line x1="1158" y1="226" x2="1189" y2="100" stroke="#8a0a10" stroke-width="2.0" opacity="0.5" stroke-linecap="round"/>
<line x1="1173" y1="201" x2="1203" y2="114" stroke="#ffffff" stroke-width="4.2" opacity="0.45" stroke-linecap="round"/>
<line x1="1223" y1="197" x2="1398" y2="-18" stroke="#ff7a50" stroke-width="2.6" opacity="0.5" stroke-linecap="round"/>
<line x1="1224" y1="210" x2="1352" y2="76" stroke="#ffffff" stroke-width="1.3" opacity="0.45" stroke-linecap="round"/>
<line x1="1147" y1="267" x2="1194" y2="20" stroke="#ffffff" stroke-width="1.8" opacity="0.45" stroke-linecap="round"/>
<line x1="1255" y1="248" x2="1382" y2="193" stroke="#8a0a10" stroke-width="2.9" opacity="0.5" stroke-linecap="round"/>
<line x1="1187" y1="283" x2="1373" y2="225" stroke="#ffd8cc" stroke-width="2.0" opacity="0.5" stroke-linecap="round"/>
<line x1="1251" y1="260" x2="1436" y2="198" stroke="#ff7a50" stroke-width="3.7" opacity="0.5" stroke-linecap="round"/>
<line x1="1223" y1="191" x2="1334" y2="47" stroke="#8a0a10" stroke-width="2.9" opacity="0.5" stroke-linecap="round"/>
<line x1="1216" y1="203" x2="1325" y2="66" stroke="#8a0a10" stroke-width="4.3" opacity="0.5" stroke-linecap="round"/>
<line x1="1329" y1="271" x2="1451" y2="255" stroke="#ff7a50" stroke-width="3.0" opacity="0.5" stroke-linecap="round"/>
<line x1="1193" y1="286" x2="1281" y2="269" stroke="#ffd8cc" stroke-width="2.7" opacity="0.5" stroke-linecap="round"/>
<line x1="1153" y1="256" x2="1217" y2="45" stroke="#ff7a50" stroke-width="3.8" opacity="0.5" stroke-linecap="round"/>
<path d="M1141 297 L1480 -315 L1532 -283Z" fill="#241418" opacity="0.75" filter="url(#bl3)"/>
<path d="M1212 300 L1262 262 L1272 272 L1225 306Z" fill="#1f8a2c"/>
<path d="M1232 85 L1290 20 L1298 28 L1242 92Z" fill="#7ed08a" opacity="0.8"/>
<path d="M1262 70 L1300 12 L1306 18 L1270 76Z" fill="#3050c0" opacity="0.8"/>
<path d="M1300 170 L1445 90 L1445 120 L1310 185Z" fill="#c0a0c8" opacity="0.6"/>
<path d="M1095 300 L1130 300 L1165 330 L1150 350 L1110 330 Z" fill="#5a080c" opacity="0.8" filter="url(#bl3)"/>
<path d="M1046 258 Q1140 330 1226 420" fill="none" stroke="#8a0c10" stroke-width="5" opacity="0.7"/>
<path d="M1050 253 Q1144 325 1230 415" fill="none" stroke="#ff8a70" stroke-width="2" opacity="0.6"/>
<path d="M1010 288 Q1110 360 1206 440" fill="none" stroke="#8a0c10" stroke-width="5" opacity="0.7"/>
<path d="M1014 283 Q1114 355 1210 435" fill="none" stroke="#ff8a70" stroke-width="2" opacity="0.6"/>
<path d="M985 315 Q1090 390 1194 468" fill="none" stroke="#8a0c10" stroke-width="5" opacity="0.7"/>
<path d="M989 310 Q1094 385 1198 463" fill="none" stroke="#ff8a70" stroke-width="2" opacity="0.6"/>
<path d="M962 344 Q1070 420 1172 488" fill="none" stroke="#8a0c10" stroke-width="5" opacity="0.7"/>
<path d="M966 339 Q1074 415 1176 483" fill="none" stroke="#ff8a70" stroke-width="2" opacity="0.6"/>
<path d="M950 372 Q1050 445 1160 506" fill="none" stroke="#8a0c10" stroke-width="5" opacity="0.7"/>
<path d="M954 367 Q1054 440 1164 501" fill="none" stroke="#ff8a70" stroke-width="2" opacity="0.6"/>
<line x1="953" y1="395" x2="1029" y2="423" stroke="#fff0ea" stroke-width="1.9" opacity="0.6"/>
<line x1="968" y1="407" x2="1057" y2="426" stroke="#fff0ea" stroke-width="3.9" opacity="0.6"/>
<line x1="976" y1="419" x2="1041" y2="454" stroke="#fff0ea" stroke-width="3.6" opacity="0.6"/>
<line x1="986" y1="431" x2="1048" y2="456" stroke="#fff0ea" stroke-width="2.3" opacity="0.6"/>
<line x1="997" y1="443" x2="1053" y2="472" stroke="#fff0ea" stroke-width="1.5" opacity="0.6"/>
<line x1="1010" y1="455" x2="1072" y2="470" stroke="#fff0ea" stroke-width="2.3" opacity="0.6"/>
<line x1="1022" y1="467" x2="1087" y2="483" stroke="#fff0ea" stroke-width="4.0" opacity="0.6"/>
<line x1="1034" y1="479" x2="1122" y2="496" stroke="#fff0ea" stroke-width="2.2" opacity="0.6"/>
<line x1="1040" y1="491" x2="1119" y2="511" stroke="#fff0ea" stroke-width="1.8" opacity="0.6"/>
<line x1="1054" y1="503" x2="1139" y2="534" stroke="#fff0ea" stroke-width="2.1" opacity="0.6"/>
<line x1="1063" y1="515" x2="1149" y2="541" stroke="#fff0ea" stroke-width="3.3" opacity="0.6"/>
<line x1="1074" y1="527" x2="1116" y2="556" stroke="#fff0ea" stroke-width="2.6" opacity="0.6"/>
<path d="M1104 0 L1118 0 L1090 150 L1086 192 L1075 192 L1081 148 L1096 49Z" fill="#e08080" opacity="0.6"/>
</g>
<path d="M418.9 438.2 L443.0 446.0 L447.0 480.0 L454.0 521.8 L467.0 560.0 L475.5 624.3 L476.0 630.0 L456.6 629.0 L440.5 575.7 L430.0 530.0 L424.3 494.8 L419.0 460.0Z" fill="#c0957a" />
<path d="M462.0 552.0 L510.0 560.0 L551.0 566.0 L551.0 578.0 L510.0 582.0 L466.0 590.0Z" fill="#a87f68" />
<path d="M686.0 244.0 L710.0 243.0 L767.0 255.0 L835.0 276.0 L843.0 287.0 L840.0 298.0 L786.0 281.0 L728.0 269.0 L695.0 267.0Z" fill="#c0957a" />
<path d="M759.0 276.0 L777.0 282.0 L778.5 294.0 L769.0 317.0 L773.0 352.0 L752.0 350.0 L747.5 307.5Z" fill="#ad826a" />
<path d="M765.0 382.0 L800.0 395.0 L868.0 417.0 L874.0 428.0 L840.0 433.0 L800.0 425.0 L768.0 402.0Z" fill="#a08a7c" />
<path d="M720.0 353.0 C717.7 350.3 717.0 349.7 728.0 350.0 C739.0 350.3 766.7 352.0 786.0 355.0 C805.3 358.0 826.2 362.2 844.0 368.0 C861.8 373.8 877.7 382.7 893.0 390.0 C908.3 397.3 929.8 406.8 936.0 412.0 C942.2 417.2 932.3 419.7 930.0 421.0 C927.7 422.3 933.0 420.8 922.0 420.0 C911.0 419.2 880.2 419.2 864.0 416.0 C847.8 412.8 841.2 406.2 825.0 401.0 C808.8 395.8 780.8 390.8 767.0 385.0 C753.2 379.2 749.8 371.3 742.0 366.0 C734.2 360.7 722.3 355.7 720.0 353.0Z" fill="#ec4440"/>
<path d="M1158.8 715.8 L1195.8 713.8 L1215.0 704.0 L1233.0 696.0 L1236.7 721.6 L1225.0 719.7 L1199.7 735.0 L1164.6 739.0Z" fill="#b08670" />
<path d="M1203.6 626.0 L1221.0 622.0 L1246.0 686.6 L1273.7 801.5 L1264.0 804.0 L1254.0 803.0 L1234.7 696.0Z" fill="#c0957a" />
<path d="M1080.0 650.0 L1092.0 645.0 L1100.0 668.0 L1110.0 705.0 L1126.0 748.0 L1118.0 754.0 L1104.0 728.0 L1090.0 695.0Z" fill="#7a5a48" />
<path d="M1093.4 586.0 C1093.4 581.8 1097.5 586.5 1100.5 589.8 C1103.5 593.1 1108.0 599.7 1111.3 606.0 C1114.6 612.3 1117.0 620.9 1120.3 627.5 C1123.6 634.1 1127.4 638.5 1131.0 645.4 C1134.6 652.3 1138.6 660.4 1141.9 668.8 C1145.2 677.2 1149.0 688.2 1150.8 695.7 C1152.6 703.2 1150.5 706.2 1152.6 713.7 C1154.7 721.2 1160.4 731.6 1163.4 740.6 C1166.4 749.6 1169.1 759.2 1170.6 767.6 C1172.1 776.0 1173.0 786.5 1172.4 791.0 C1171.8 795.5 1169.7 796.0 1167.0 794.5 C1164.3 793.0 1159.8 788.0 1156.2 782.0 C1152.6 776.0 1148.4 764.9 1145.4 758.6 C1142.4 752.3 1141.9 748.7 1138.3 744.2 C1134.7 739.7 1128.7 738.3 1123.9 731.7 C1119.1 725.1 1113.4 715.2 1109.5 704.7 C1105.6 694.2 1102.3 677.8 1100.5 668.8 C1098.7 659.8 1098.7 659.8 1098.7 650.8 C1098.7 641.8 1101.4 625.8 1100.5 615.0 C1099.6 604.2 1093.4 590.2 1093.4 586.0Z" fill="#ea3c38"/>
<radialGradient id="fg611" gradientUnits="userSpaceOnUse" cx="611" cy="560" r="125"><stop offset="0" stop-color="#d80c10"/><stop offset="0.45" stop-color="#e41a1a"/><stop offset="0.66" stop-color="#ec4c46"/><stop offset="0.86" stop-color="#ef625c"/><stop offset="1" stop-color="#e63030"/></radialGradient>
<path d="M575.3 473.3 C577.8 466.2 580.7 464.5 588.8 462.5 C596.9 460.5 617.1 459.0 629.2 459.8 C641.3 460.6 662.0 464.3 669.7 467.9 C677.4 471.5 679.7 478.7 680.5 484.0 C681.3 489.3 678.1 497.9 675.0 503.0 C671.9 508.1 658.8 518.0 660.0 518.0 C661.2 518.0 675.5 505.7 683.0 503.0 C690.5 500.3 702.7 498.0 710.0 500.0 C717.3 502.0 728.0 509.1 731.7 516.4 C735.4 523.7 735.6 539.9 734.4 548.8 C733.2 557.7 728.5 570.5 723.6 575.7 C718.7 581.0 709.0 582.1 702.0 583.8 C695.0 585.5 677.8 584.2 677.0 587.0 C676.2 589.8 692.4 597.9 696.6 602.7 C700.8 607.5 704.3 613.2 704.7 618.9 C705.1 624.6 704.6 634.8 699.4 640.5 C694.1 646.2 679.8 653.5 669.7 656.7 C659.6 659.9 641.3 662.8 632.0 662.0 C622.7 661.2 612.2 656.1 607.7 651.3 C603.2 646.5 603.5 634.4 602.3 629.7 C601.1 625.0 602.0 618.0 600.0 620.0 C598.0 622.0 594.5 638.1 588.8 643.2 C583.1 648.3 571.9 653.6 561.8 654.0 C551.7 654.4 530.7 650.4 521.4 645.9 C512.1 641.4 502.6 632.0 499.8 624.3 C497.0 616.6 499.3 601.1 502.5 594.6 C505.7 588.1 514.3 584.2 521.4 581.0 C528.5 577.8 550.4 574.6 550.0 573.0 C549.6 571.4 527.0 573.2 518.7 570.4 C510.4 567.6 498.4 560.7 494.4 554.2 C490.3 547.7 489.7 535.3 491.7 527.2 C493.7 519.1 501.4 506.3 507.9 500.2 C514.4 494.1 526.7 488.4 534.8 486.8 C542.9 485.2 556.2 485.9 561.8 489.4 C567.4 492.9 570.0 512.4 572.0 510.0 C574.0 507.6 572.8 480.4 575.3 473.3Z" fill="url(#fg611)" stroke="#e21c1c" stroke-width="3"/>
<ellipse cx="628" cy="478" rx="30" ry="12" transform="rotate(5 628 478)" fill="#f48a82" opacity="0.5" filter="url(#bl3)"/>
<ellipse cx="700" cy="530" rx="14" ry="26" transform="rotate(-20 700 530)" fill="#f48a82" opacity="0.5" filter="url(#bl3)"/>
<ellipse cx="665" cy="630" rx="26" ry="14" transform="rotate(-30 665 630)" fill="#f48a82" opacity="0.5" filter="url(#bl3)"/>
<ellipse cx="545" cy="625" rx="24" ry="14" transform="rotate(30 545 625)" fill="#f48a82" opacity="0.5" filter="url(#bl3)"/>
<ellipse cx="525" cy="520" rx="14" ry="24" transform="rotate(20 525 520)" fill="#f48a82" opacity="0.5" filter="url(#bl3)"/>
<circle cx="614" cy="564" r="53" fill="#b8161c"/>
<circle cx="611" cy="560" r="50" fill="#e23a3c"/>
<circle cx="615" cy="564" r="30" fill="#c41c20"/>
<circle cx="613" cy="562" r="19" fill="#f4ecdc"/>
<circle cx="614" cy="562" r="8.6" fill="#b48a2c"/>
<rect x="574.7" y="525.6" width="12" height="6" rx="3" transform="rotate(-35 580.7 528.6)" fill="#1c0c0c"/>
<rect x="636.7" y="521.5" width="12" height="6" rx="3" transform="rotate(35 642.7 524.5)" fill="#1c0c0c"/>
<rect x="652.9" y="572.7" width="12" height="6" rx="3" transform="rotate(100 658.9 575.7)" fill="#1c0c0c"/>
<rect x="574.7" y="575.4" width="12" height="6" rx="3" transform="rotate(40 580.7 578.4)" fill="#1c0c0c"/>
<radialGradient id="fg940" gradientUnits="userSpaceOnUse" cx="940.8" cy="892.2" r="125"><stop offset="0" stop-color="#d80c10"/><stop offset="0.45" stop-color="#e41a1a"/><stop offset="0.66" stop-color="#ec4c46"/><stop offset="0.86" stop-color="#ef625c"/><stop offset="1" stop-color="#e63030"/></radialGradient>
<path d="M899.9 789.0 C900.8 779.5 902.2 776.9 907.7 773.4 C913.2 769.9 927.3 765.9 936.9 765.6 C946.5 765.3 964.7 767.9 972.0 771.4 C979.3 774.9 984.1 783.5 985.6 789.0 C987.1 794.5 983.7 802.7 981.7 808.4 C979.7 814.1 970.8 826.4 972.0 827.0 C973.2 827.6 984.5 815.4 989.5 812.3 C994.5 809.2 999.7 806.2 1005.0 806.5 C1010.3 806.8 1019.9 809.6 1024.6 814.3 C1029.3 819.0 1034.5 829.8 1036.2 837.7 C1037.9 845.6 1037.7 857.9 1036.2 866.9 C1034.7 875.9 1030.9 892.4 1026.5 898.0 C1022.1 903.6 1012.5 902.8 1007.0 904.0 C1001.5 905.2 990.0 903.4 990.0 906.0 C990.0 908.6 1003.3 916.2 1007.0 921.4 C1010.7 926.6 1014.2 933.9 1014.8 940.9 C1015.4 947.9 1013.3 961.8 1011.0 968.2 C1008.7 974.6 1004.5 980.3 999.2 983.8 C993.9 987.3 982.3 992.2 975.9 991.6 C969.5 991.0 960.8 984.0 956.4 979.9 C952.0 975.8 949.2 968.0 946.6 964.3 C944.0 960.6 941.0 953.5 939.0 955.0 C937.0 956.5 936.2 968.2 933.0 974.0 C929.8 979.8 924.1 990.3 917.4 993.5 C910.7 996.7 896.4 997.0 888.2 995.5 C880.0 994.0 868.2 988.5 862.9 983.8 C857.6 979.1 854.3 970.7 853.1 964.3 C851.9 957.9 852.7 946.9 855.0 941.0 C857.3 935.1 864.4 929.0 868.7 925.3 C873.1 921.5 884.0 918.3 884.0 916.0 C884.0 913.7 873.9 911.9 868.7 909.8 C863.5 907.7 853.9 907.0 849.2 902.0 C844.5 897.0 838.7 886.2 837.5 876.6 C836.3 867.0 838.2 847.0 841.4 837.7 C844.6 828.4 853.5 818.4 859.0 814.3 C864.5 810.2 872.5 808.9 878.4 810.4 C884.2 811.9 894.5 820.0 898.0 824.0 C901.5 828.0 901.7 842.2 902.0 837.0 C902.3 831.8 899.0 798.5 899.9 789.0Z" fill="url(#fg940)" stroke="#e21c1c" stroke-width="3"/>
<ellipse cx="940" cy="785" rx="30" ry="12" transform="rotate(5 940 785)" fill="#f48a82" opacity="0.5" filter="url(#bl3)"/>
<ellipse cx="1015" cy="850" rx="14" ry="26" transform="rotate(-20 1015 850)" fill="#f48a82" opacity="0.5" filter="url(#bl3)"/>
<ellipse cx="990" cy="950" rx="20" ry="14" transform="rotate(-30 990 950)" fill="#f48a82" opacity="0.5" filter="url(#bl3)"/>
<ellipse cx="890" cy="965" rx="24" ry="14" transform="rotate(30 890 965)" fill="#f48a82" opacity="0.5" filter="url(#bl3)"/>
<ellipse cx="860" cy="860" rx="14" ry="26" transform="rotate(20 860 860)" fill="#f48a82" opacity="0.5" filter="url(#bl3)"/>
<circle cx="943.8" cy="896.2" r="51" fill="#b8161c"/>
<circle cx="940.8" cy="892.2" r="48" fill="#e23a3c"/>
<circle cx="944" cy="892" r="25" fill="#c41c20"/>
<circle cx="935" cy="888" r="13" fill="#f4ecdc"/>
<circle cx="936" cy="888" r="5.9" fill="#b48a2c"/>
<rect x="925" y="850" width="12" height="6" rx="3" transform="rotate(-20 931 853)" fill="#1c0c0c"/>
<rect x="971.8" y="865.8" width="12" height="6" rx="3" transform="rotate(70 977.8 868.8)" fill="#1c0c0c"/>
<rect x="909.5" y="908.7" width="12" height="6" rx="3" transform="rotate(70 915.5 911.7)" fill="#1c0c0c"/>
<rect x="956.2" y="922.3" width="12" height="6" rx="3" transform="rotate(-20 962.2 925.3)" fill="#1c0c0c"/>
<path d="M934.5 954.0 L944.5 954.0 L949.5 999.0 L974.4 1029.0 L950.0 1036.0 L929.5 1009.0Z" fill="#a87e66" />
<path d="M893.0 1044.0 L971.0 1034.0 L1071.0 1024.0 L1092.0 1030.0 L1090.0 1050.0 L1021.0 1061.0 L910.0 1071.0 L895.0 1068.0Z" fill="#c0957a" />
<rect x="549" y="67" width="282" height="52" rx="11" fill="#b0f4d2"/>
<text class="h" x="565" y="108" font-size="42" textLength="246" lengthAdjust="spacingAndGlyphs">Eazy to Clean</text>
<text class="s" x="567" y="159" font-size="32" textLength="177" lengthAdjust="spacingAndGlyphs">Wide Mouth</text>
<rect x="1" y="248" width="345" height="56" rx="11" fill="#b0f4d2"/>
<text class="h" x="17" y="291.6" font-size="42" textLength="304" lengthAdjust="spacingAndGlyphs">Resistant to Rust</text>
<text class="s" x="11" y="338" font-size="30.5" textLength="688" lengthAdjust="spacingAndGlyphs">Copper Feeding Holes Safer for Hummingbirds</text>
<rect x="176" y="1230" width="343" height="59" rx="12" fill="#b0f4d2"/>
<text class="h" x="194" y="1274.4" font-size="40" textLength="309" lengthAdjust="spacingAndGlyphs">Prevent Leakage</text>
<text class="s" x="194" y="1325" font-size="31" textLength="258" lengthAdjust="spacingAndGlyphs">Leakproof Gasket</text>
<rect x="855" y="1210" width="364" height="59" rx="12" fill="#b0f4d2"/>
<text class="h" x="868" y="1254" font-size="41" textLength="336" lengthAdjust="spacingAndGlyphs">For Drink and Rest</text>
<text class="s" x="866" y="1307" font-size="31" textLength="140" lengthAdjust="spacingAndGlyphs">4 Perches</text>
<g fill="none" stroke="#111">
<path d="M834 71 L985 71 L986 404" stroke-width="2" stroke-dasharray="5 3"/>
<path d="M71 359 L76 549" stroke-width="2.4" stroke-dasharray="5 2.5"/>
<path d="M76 549.5 L562 543" stroke-width="3.2" stroke-dasharray="6 3.4"/>
<path d="M392 817 L176 822" stroke-width="2.2" stroke-dasharray="6.2 3.2"/>
<path d="M176.5 822 L181 1222" stroke-width="2.2" stroke-dasharray="5.5 3.5"/>
<path d="M997 1053 L1214 1058 L1214 1207" stroke-width="2.2" stroke-dasharray="5.5 3.5"/>
</g>
<g fill="#000">
<circle cx="988" cy="407" r="8"/>
<circle cx="567" cy="543" r="8"/>
<circle cx="394" cy="818" r="8"/>
<circle cx="998" cy="1053" r="8"/>
</g>
</svg>
</body></html>
